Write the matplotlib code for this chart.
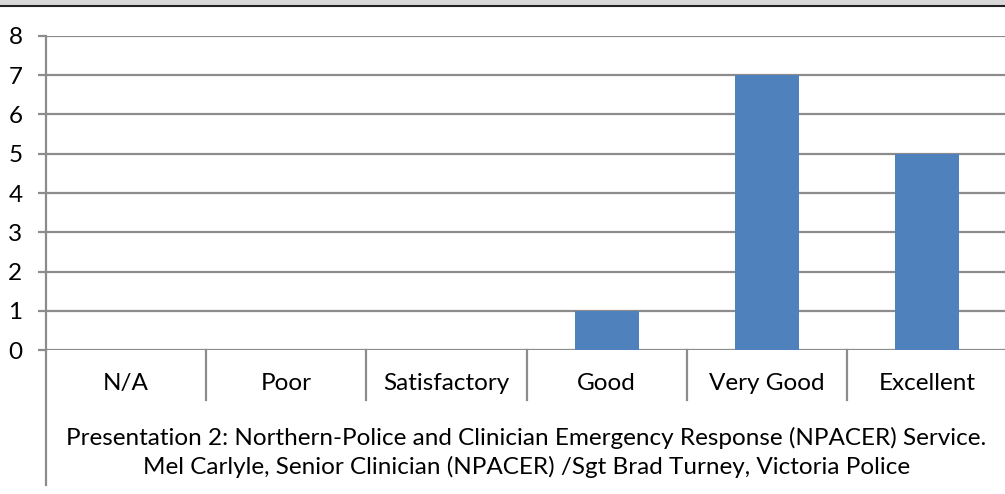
import matplotlib.pyplot as plt
from matplotlib.patches import Rectangle
from matplotlib.transforms import blended_transform_factory

plt.rcParams['font.family'] = ['Lato', 'DejaVu Sans']

# data
categories = ['N/A', 'Poor', 'Satisfactory', 'Good', 'Very Good', 'Excellent']
counts = [0, 0, 0, 1, 7, 5]
group_label = ('Presentation 2: Northern-Police and Clinician Emergency Response (NPACER) Service.\n'
               'Mel Carlyle, Senior Clinician (NPACER) /Sgt Brad Turney, Victoria Police')

grid_col = '#8c8c8c'
bar_col = '#4f81bd'
fs = 17.5

fig = plt.figure(figsize=(10.05, 4.94), dpi=100, facecolor='white')
ax = fig.add_axes([46 / 1005, 1 - 350 / 494, 961 / 1005, 314 / 494])

x = range(len(categories))
ax.bar(x, counts, width=0.4, color=bar_col, zorder=3)

ax.set_xlim(-0.5, len(categories) - 0.5)
ax.set_ylim(0, 8)
ax.set_yticks(range(0, 9))
ax.yaxis.grid(True, color=grid_col, linewidth=1.6)
ax.set_axisbelow(True)
ax.tick_params(axis='y', length=6, width=1.6, color=grid_col, labelsize=fs, pad=11)
ax.set_xticks([])

for s in ['top', 'right', 'bottom']:
    ax.spines[s].set_visible(False)
ax.spines['left'].set_color(grid_col)
ax.spines['left'].set_linewidth(1.6)

# multi-level category axis below the plot
trans = blended_transform_factory(ax.transData, ax.transAxes)
for k in range(1, len(categories)):
    ax.plot([k - 0.5, k - 0.5], [0, -0.16], transform=trans, color=grid_col,
            linewidth=1.6, clip_on=False)
ax.plot([-0.5, -0.5], [0, -0.43], transform=trans, color=grid_col,
        linewidth=1.6, clip_on=False)
for i, c in enumerate(categories):
    ax.text(i, -0.108, c, transform=trans, ha='center', va='center', fontsize=fs)
ax.text((len(categories) - 1) / 2, -0.325, group_label, transform=trans,
        ha='center', va='center', fontsize=fs, linespacing=1.38)

# strip of the table header cut off at the top
fig.patches.append(Rectangle((0, 1 - 5 / 494), 1, 5 / 494, transform=fig.transFigure,
                             facecolor='#d9d9d9', edgecolor='none'))
fig.lines.append(plt.Line2D([0, 1], [1 - 6 / 494, 1 - 6 / 494], transform=fig.transFigure,
                            color='#222222', linewidth=1.5))

fig.savefig('out.png', dpi=100)
